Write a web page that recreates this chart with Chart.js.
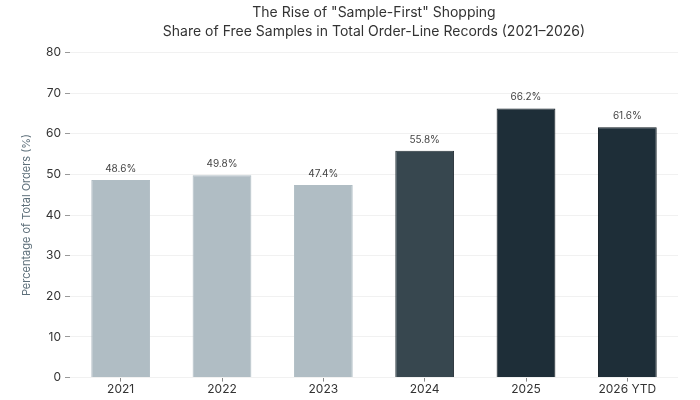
<!DOCTYPE html>
<html><head><meta charset="utf-8">
<script src="https://cdn.jsdelivr.net/npm/chart.js@4/dist/chart.umd.min.js"></script>
<style>html,body{margin:0;padding:0;background:#fff}#wrap{width:700px;height:400px}</style>
</head><body><div id="wrap"><canvas id="c"></canvas></div>
<script>
const categories = ["2021","2022","2023","2024","2025","2026 YTD"];
const shareValues = [48.6, 49.8, 47.4, 55.8, 66.2, 61.6];
const barColors = ["#b0bdc4","#b0bdc4","#b0bdc4","#37474f","#1e2e38","#1e2e38"];
const borderColors = ["#b0bdc4","#b0bdc4","#b0bdc4","#263238","#0f1a20","#0f1a20"];
const yTicks = [0,10,20,30,40,50,60,70,80];
const titleLines = ['The Rise of "Sample-First" Shopping','Share of Free Samples in Total Order-Line Records (2021\u20132026)'];
const yTitle = "Percentage of Total Orders (%)";

const FONT = "Inter, 'Noto Sans', sans-serif";

const valueLabels = {
  id: 'valueLabels',
  afterDatasetsDraw(chart) {
    const ctx = chart.ctx;
    const meta = chart.getDatasetMeta(0);
    ctx.save();
    ctx.font = "10px " + FONT;
    ctx.fillStyle = "#444";
    ctx.textAlign = "center";
    ctx.textBaseline = "bottom";
    meta.data.forEach((bar, i) => {
      ctx.fillText(shareValues[i].toFixed(1) + "%", bar.x, bar.y - 6);
    });
    ctx.restore();
  }
};

new Chart(document.getElementById('c'), {
  type: 'bar',
  data: {
    labels: categories,
    datasets: [{
      data: shareValues,
      backgroundColor: barColors,
      borderColor: borderColors,
      borderWidth: 1,
      barPercentage: 0.58,
      categoryPercentage: 1.0
    }]
  },
  options: {
    responsive: true,
    maintainAspectRatio: false,
    animation: false,
    layout: { padding: { left: 20, right: 22, top: 4, bottom: 2 } },
    plugins: {
      legend: { display: false },
      tooltip: { enabled: false },
      title: {
        display: true,
        fullSize: false,
        text: titleLines,
        color: "#333",
        font: { family: FONT, size: 14, weight: 'normal', lineHeight: 1.3 },
        padding: { top: 0, bottom: 12 }
      }
    },
    scales: {
      x: {
        grid: { drawOnChartArea: false, drawTicks: true, tickLength: 4, color: "#888", offset: false },
        border: { display: false },
        ticks: { color: "#333", font: { family: FONT, size: 12 }, padding: 1 },
        offset: true
      },
      y: {
        min: 0, max: 80,
        afterBuildTicks(scale) { scale.ticks = yTicks.map(v => ({ value: v })); },
        afterFit(scale) { scale.width = 50; },
        grid: { color: "#f1f1f1", tickColor: "#999", tickLength: 5, drawTicks: true },
        border: { display: false },
        ticks: { color: "#333", font: { family: FONT, size: 12 }, padding: 4 },
        title: { display: true, text: yTitle, color: "#5d6f7a", font: { family: FONT, size: 11 }, padding: { top: 0, bottom: 6 } }
      }
    }
  },
  plugins: [valueLabels]
});
</script>
</body></html>
